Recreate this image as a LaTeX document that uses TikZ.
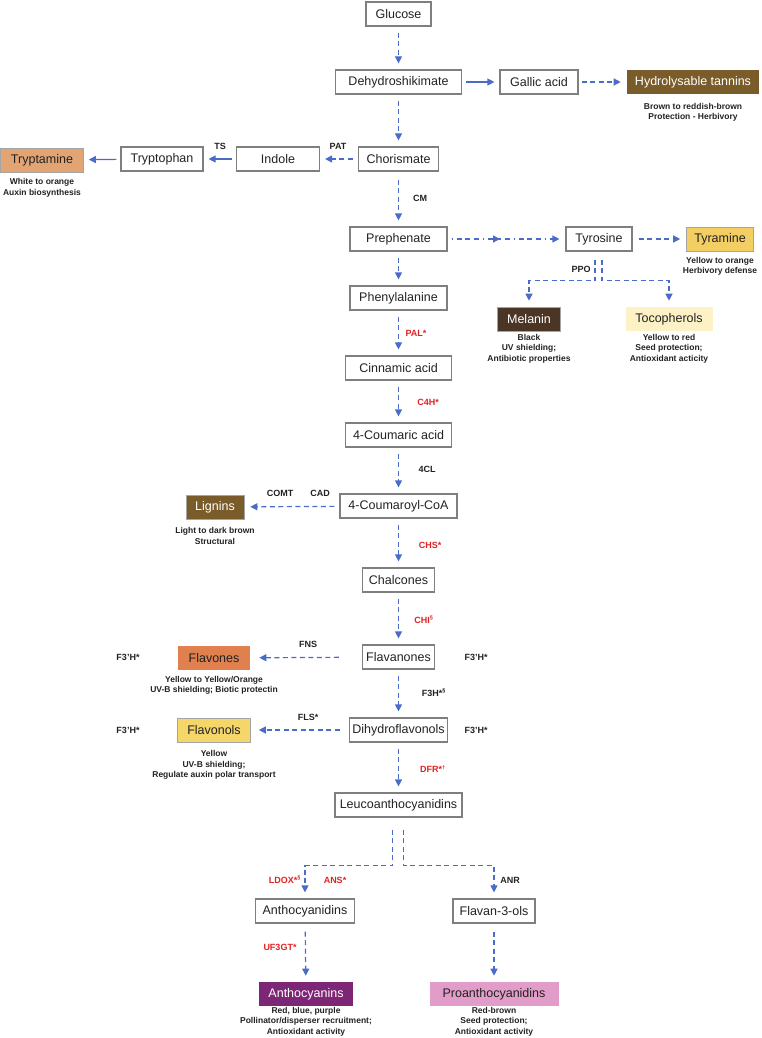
\documentclass[tikz,border=0pt]{standalone}
\usepackage{fontspec}
\setmainfont{Liberation Sans}
\usetikzlibrary{arrows.meta,decorations.markings}
\definecolor{arc}{HTML}{4A6CC8}
\definecolor{bxc}{HTML}{7F7F7F}
\definecolor{tanc}{HTML}{7A5C2A}
\definecolor{trypc}{HTML}{E3A474}
\definecolor{tyrac}{HTML}{F3CF63}
\definecolor{melc}{HTML}{4B3626}
\definecolor{tococ}{HTML}{FDF1C6}
\definecolor{flvc}{HTML}{E0804F}
\definecolor{flnc}{HTML}{F5D669}
\definecolor{antc}{HTML}{7D2676}
\definecolor{proc}{HTML}{E29CC9}
\definecolor{enzred}{HTML}{E02222}
\definecolor{txt}{HTML}{222222}
\newcommand{\supmark}[1]{\textsuperscript{\fontsize{5.5}{5.5}\selectfont #1}}
\tikzset{
  box/.style={draw=bxc, line width=1.2pt, minimum height=24pt, inner sep=0pt, text=txt, font=\fontsize{12.5}{14}\selectfont},
  cbox/.style={draw=bxc!70, line width=0.6pt, minimum height=24pt, inner sep=0pt, font=\fontsize{12.5}{14}\selectfont},
  sub/.style={font=\bfseries\fontsize{8.5}{10.5}\selectfont, align=center, inner sep=0pt, text=txt},
  enz/.style={font=\bfseries\fontsize{9}{10}\selectfont, inner sep=0pt, text=txt},
  renz/.style={font=\bfseries\fontsize{9}{10}\selectfont, inner sep=0pt, text=enzred},
  tip/.style={-{Triangle[length=7pt,width=7pt]}},
  da/.style={draw=arc, line width=1.2pt, dash pattern=on 5pt off 3.5pt, tip, shorten <=6pt, shorten >=6pt},
  sa/.style={draw=arc, line width=1.2pt, tip, shorten <=4pt, shorten >=5pt},
}
\begin{document}
\begin{tikzpicture}[x=1pt,y=-1pt]
\useasboundingbox (0,0) rectangle (761,1038);
\node[box, minimum width=65pt] (glu) at (398.5,14) {Glucose};
\node[box, minimum width=126pt] (dhs) at (398.5,82) {Dehydroshikimate};
\node[box, minimum width=78pt] (gal) at (539,82) {Gallic acid};
\node[cbox, fill=tanc, draw=none, text=white, minimum width=132pt] (hyt) at (693,82) {Hydrolysable tannins};
\node[sub] (hyts) at (693,112.5) {Brown to reddish-brown\\Protection - Herbivory};
\node[box, minimum width=80pt] (cho) at (398.5,159) {Chorismate};
\node[box, minimum width=83pt] (ind) at (278,159) {Indole};
\node[box, minimum width=82pt] (trp) at (162,159) {Tryptophan};
\node[cbox, fill=trypc, text=txt, minimum width=83pt] (trm) at (42,160) {Tryptamine};
\node[sub] (trms) at (42,188) {White to orange\\Auxin biosynthesis};
\node[enz] (pat) at (338,146) {PAT};
\node[enz] (ts) at (220,146) {TS};
\node[enz] (cm) at (420,198) {CM};
\node[box, minimum width=97pt] (pre) at (398.5,239) {Prephenate};
\node[box, minimum width=66pt] (tyr) at (599,239) {Tyrosine};
\node[cbox, fill=tyrac, text=txt, minimum width=67pt] (tya) at (720,239) {Tyramine};
\node[sub] (tyas) at (720,266.5) {Yellow to orange\\Herbivory defense};
\node[enz] (ppo) at (581,269) {PPO};
\node[cbox, fill=melc, text=white, minimum width=63pt] (mel) at (529,319) {Melanin};
\node[sub] (mels) at (529,348.5) {Black\\UV shielding;\\Antibiotic properties};
\node[cbox, fill=tococ, draw=none, text=txt, minimum width=87pt] (toc) at (669,319) {Tocopherols};
\node[sub] (tocs) at (669,348.5) {Yellow to red\\Seed protection;\\Antioxidant acticity};
\node[box, minimum width=97pt] (phe) at (398.5,298) {Phenylalanine};
\node[renz] (pal) at (416,333) {PAL*};
\node[box, minimum width=106pt] (cin) at (398.5,368) {Cinnamic acid};
\node[renz] (c4h) at (428,402) {C4H*};
\node[box, minimum width=106pt] (cou) at (398.5,435) {4-Coumaric acid};
\node[enz] (fcl) at (427,469) {4CL};
\node[box, minimum width=117pt] (coa) at (398.5,506) {4-Coumaroyl-CoA};
\node[enz] (comt) at (280,493) {COMT};
\node[enz] (cad) at (320,493) {CAD};
\node[cbox, fill=tanc, text=white, minimum width=58pt] (lig) at (215,507) {Lignins};
\node[sub] (ligs) at (215,536) {Light to dark brown\\Structural};
\node[renz] (chs) at (430,545) {CHS*};
\node[box, minimum width=72pt] (chl) at (398.5,580) {Chalcones};
\node[renz] (chi) at (424,620) {CHI\supmark{§}};
\node[box, minimum width=72pt] (fvn) at (398.5,657) {Flavanones};
\node[enz] (f3a) at (476,657) {F3’H*};
\node[enz] (f3b) at (128,657) {F3’H*};
\node[cbox, fill=flvc, draw=none, text=txt, minimum width=72pt] (flv) at (214,658) {Flavones};
\node[sub] (flvs) at (214,685.5) {Yellow to Yellow/Orange\\UV-B shielding; Biotic protectin};
\node[enz] (fns) at (308,644) {FNS};
\node[enz] (f3h) at (434,693) {F3H*\supmark{§}};
\node[box, minimum width=98pt] (dhf) at (398.5,730) {Dihydroflavonols};
\node[enz] (f3c) at (476,730) {F3’H*};
\node[enz] (f3d) at (128,730) {F3’H*};
\node[cbox, fill=flnc, text=txt, minimum width=73pt] (fln) at (214,730) {Flavonols};
\node[sub] (flns) at (214,765) {Yellow\\UV-B shielding;\\Regulate auxin polar transport};
\node[enz] (fls) at (308,717) {FLS*};
\node[renz] (dfr) at (433,769) {DFR*\supmark{†}};
\node[box, minimum width=127pt] (leu) at (398.5,805) {Leucoanthocyanidins};
\node[renz] (ldox) at (285,880) {LDOX*\supmark{§}};
\node[renz] (ans) at (335,880) {ANS*};
\node[enz] (anr) at (510,880) {ANR};
\node[box, minimum width=99pt] (acy) at (305,911) {Anthocyanidins};
\node[box, minimum width=82pt] (f3o) at (494,911) {Flavan-3-ols};
\node[renz] (uf3) at (280,947) {UF3GT*};
\node[cbox, fill=antc, draw=none, text=white, minimum width=94pt] (ant) at (306,994) {Anthocyanins};
\node[sub] (ants) at (306,1021.5) {Red, blue, purple\\Pollinator/disperser recruitment;\\Antioxidant activity};
\node[cbox, fill=proc, draw=none, text=txt, minimum width=129pt] (pro) at (494,994) {Proanthocyanidins};
\node[sub] (pros) at (494,1021.5) {Red-brown\\Seed protection;\\Antioxidant activity};
% connectors
\draw[da] (glu) -- (dhs);
\draw[sa] (dhs) -- (gal);
\draw[da, shorten <=3pt] (gal) -- (hyt);
\draw[da] (dhs) -- (cho);
\draw[da, shorten <=5pt, shorten >=5pt] (cho) -- (ind);
\draw[sa] (ind) -- (trp);
\draw[sa] (trp) -- (trm);
\draw[da, shorten <=8pt] (cho) -- (pre);
\draw[draw=arc, line width=1.2pt, dash pattern=on 1pt off 4pt on 5pt off 3.5pt on 5pt off 3.5pt on 5pt off 4pt, shorten <=4pt, shorten >=6pt, tip,
  postaction={decorate, decoration={markings, mark=at position 0.445 with {\arrow{Triangle[length=7pt,width=7pt]}}}}] (pre) -- (tyr);
\draw[da] (tyr) -- (tya);
\draw[da, shorten <=8pt] ([xshift=-4pt]tyr.south) -- ++(0,29) -| (mel.north);
\draw[da, shorten <=8pt] ([xshift=3pt]tyr.south) -- ++(0,29) -| (toc.north);
\draw[da] (pre) -- (phe);
\draw[da] (phe) -- (cin);
\draw[da] (cin) -- (cou);
\draw[da] (cou) -- (coa);
\draw[da, shorten <=5pt] (coa) -- (lig);
\draw[da] (coa) -- (chl);
\draw[da] (chl) -- (fvn);
\draw[da, shorten <=23pt, shorten >=9pt] (fvn) -- (flv);
\draw[da] (fvn) -- (dhf);
\draw[da, shorten <=9pt, shorten >=8pt] (dhf) -- (fln);
\draw[da] (dhf) -- (leu);
\draw[da, shorten <=12pt] ([xshift=-6pt]leu.south) -- ++(0,48) -| (acy.north);
\draw[da, shorten <=12pt] ([xshift=5pt]leu.south) -- ++(0,48) -| (f3o.north);
\draw[da, shorten <=8pt] (acy) -- (ant);
\draw[da, shorten <=8pt] (f3o) -- (pro);
\end{tikzpicture}
\end{document}
